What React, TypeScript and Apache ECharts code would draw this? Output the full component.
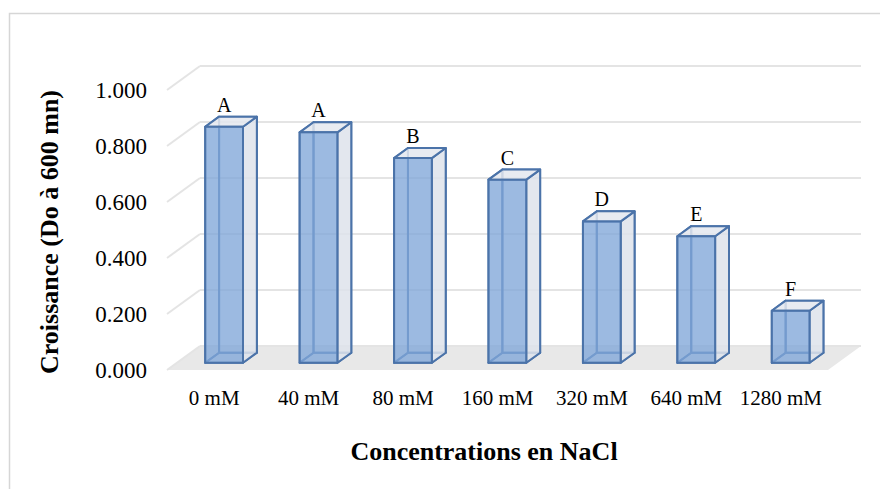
import React, { useEffect, useRef } from "react";
import * as echarts from "echarts";

const categories = ["0 mM", "40 mM", "80 mM", "160 mM", "320 mM", "640 mM", "1280 mM"];
const values = [0.843, 0.823, 0.731, 0.654, 0.505, 0.452, 0.186];
const letters = ["A", "A", "B", "C", "D", "E", "F"];
const yTicks = [0, 0.2, 0.4, 0.6, 0.8, 1.0];
const yAxisTitle = "Croissance (Do à 600 mn)";
const xAxisTitle = "Concentrations en NaCl";

const DX = 33;
const DY = -24;
const D0 = 0.3;
const D1 = 0.72;
const BAR_RATIO = 0.4;
const FONT = "'Liberation Serif', 'Times New Roman', serif";

export default function App() {
  const ref = useRef<HTMLDivElement>(null);
  useEffect(() => {
    document.body.style.margin = "0";
    const chart = echarts.init(ref.current!, undefined, { renderer: "svg" });
    const stroke = "#4b73a9";
    const option: any = {
      animation: false,
      backgroundColor: "#ffffff",
      grid: { left: 167, right: 52, top: 90, bottom: 119 },
      xAxis: {
        type: "category",
        data: categories,
        axisLine: { show: false },
        axisTick: { show: false },
        axisLabel: { interval: 0, margin: 17, fontSize: 21, fontFamily: FONT, color: "#000" },
      },
      yAxis: {
        type: "value",
        min: 0,
        max: 1,
        interval: 0.2,
        axisLine: { show: false },
        axisTick: { show: false },
        splitLine: { show: false },
        axisLabel: {
          margin: 20,
          fontSize: 23,
          fontFamily: FONT,
          color: "#000",
          formatter: (v: number) => v.toFixed(3),
        },
      },
      graphic: [
        {
          type: "rect",
          shape: { x: 9.5, y: 13.5, width: 900, height: 500 },
          style: { fill: "none", stroke: "#d6d6d6", lineWidth: 1.5 },
          silent: true,
          z: -10,
        },
        {
          type: "text",
          x: 49,
          y: 232,
          rotation: Math.PI / 2,
          style: {
            text: yAxisTitle,
            textAlign: "center",
            textVerticalAlign: "middle",
            font: "bold 26px " + FONT,
            fill: "#000",
          },
        },
        {
          type: "text",
          x: 484,
          y: 451,
          style: {
            text: xAxisTitle,
            textAlign: "center",
            textVerticalAlign: "middle",
            font: "bold 26px " + FONT,
            fill: "#000",
          },
        },
      ],
      series: [
        {
          type: "custom",
          z: 1,
          silent: true,
          data: [[0, 0]],
          renderItem: (params: any, api: any) => {
            const cs = params.coordSys;
            const y0 = api.coord([0, 0])[1];
            return {
              type: "polygon",
              shape: {
                points: [
                  [cs.x, y0],
                  [cs.x + cs.width, y0],
                  [cs.x + cs.width + DX, y0 + DY],
                  [cs.x + DX, y0 + DY],
                ],
              },
              style: { fill: "#e8e8e8", stroke: "none" },
            };
          },
        },
        {
          type: "custom",
          z: 2,
          silent: true,
          data: yTicks.map((v) => [0, v]),
          renderItem: (params: any, api: any) => {
            const cs = params.coordSys;
            const y = api.coord([0, api.value(1)])[1];
            const st = { stroke: "#e4e4e4", lineWidth: 2 };
            return {
              type: "group",
              children: [
                {
                  type: "line",
                  shape: { x1: cs.x, y1: y, x2: cs.x + DX, y2: y + DY },
                  style: st,
                },
                {
                  type: "line",
                  shape: { x1: cs.x + DX, y1: y + DY, x2: cs.x + cs.width + DX, y2: y + DY },
                  style: st,
                },
              ],
            };
          },
        },
        {
          type: "custom",
          z: 5,
          silent: true,
          data: values.map((v, i) => [i, v]),
          renderItem: (params: any, api: any) => {
            const i = api.value(0);
            const v = api.value(1);
            const base = api.coord([i, 0]);
            const top = api.coord([i, v]);
            const bw = api.size([1, 0])[0] * BAR_RATIO;
            const x0 = base[0] - bw / 2 + DX * D0;
            const x1 = x0 + bw;
            const yb = base[1] + DY * D0;
            const yt = top[1] + DY * D0;
            const ddx = DX * (D1 - D0);
            const ddy = DY * (D1 - D0);
            const FBL = [x0, yb], FBR = [x1, yb], FTR = [x1, yt], FTL = [x0, yt];
            const BBL = [x0 + ddx, yb + ddy], BBR = [x1 + ddx, yb + ddy];
            const BTR = [x1 + ddx, yt + ddy], BTL = [x0 + ddx, yt + ddy];
            const edge = { stroke, lineWidth: 2, lineJoin: "round" };
            const poly = (pts: number[][], fill: string, opacity = 1) => ({
              type: "polygon",
              shape: { points: pts },
              style: { ...edge, fill, opacity },
            });
            return {
              type: "group",
              children: [
                poly([BBL, BBR, BTR, BTL], "none"),
                poly([FBL, BBL, BTL, FTL], "none"),
                poly([FBL, FBR, BBR, BBL], "none"),
                poly([FBR, BBR, BTR, FTR], "rgba(222,227,235,0.85)"),
                poly([FTL, FTR, BTR, BTL], "rgba(228,232,238,0.85)"),
                poly([FBL, FBR, FTR, FTL], "rgba(128,166,216,0.78)"),
                {
                  type: "text",
                  x: (x0 + x1) / 2,
                  y: yt - 22,
                  style: {
                    text: letters[i],
                    textAlign: "center",
                    textVerticalAlign: "middle",
                    font: "20px " + FONT,
                    fill: "#000",
                  },
                },
              ],
            };
          },
        },
      ],
    };
    chart.setOption(option);
    return () => chart.dispose();
  }, []);
  return <div ref={ref} style={{ width: 880, height: 489 }} />;
}
